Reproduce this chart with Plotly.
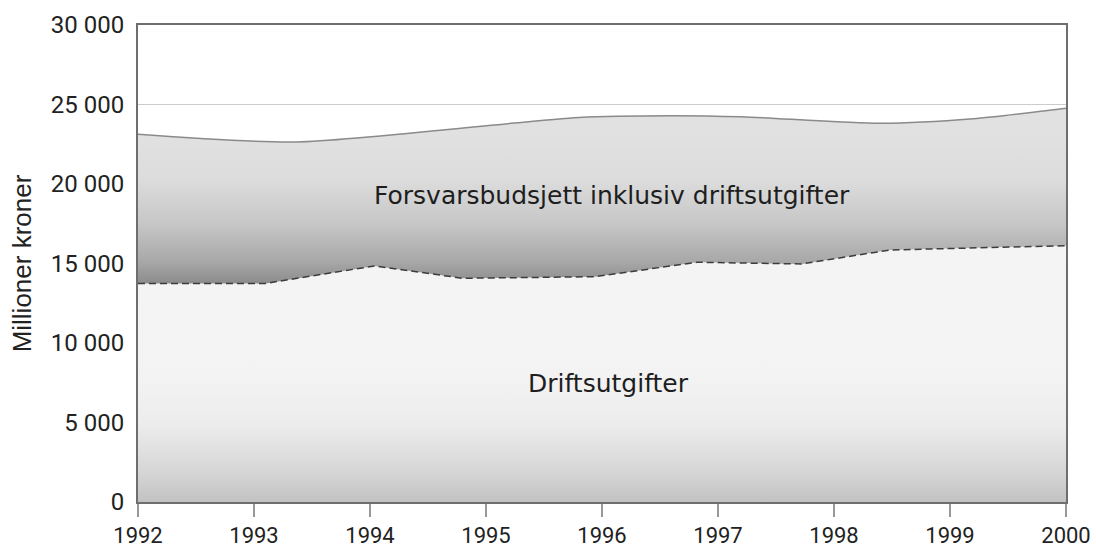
import plotly.graph_objects as go

# Data
years = [1992, 1993, 1994, 1995, 1996, 1997, 1998, 1999, 2000]
y_tickvals = [0, 5000, 10000, 15000, 20000, 25000, 30000]
y_ticktext = ["0", "5 000", "10 000", "15 000", "20 000", "25 000", "30 000"]

drift_x = [1992, 1993.1, 1994.04, 1994.8, 1995.94, 1996.82, 1997.72, 1998.48, 2000]
drift_y = [13750, 13750, 14850, 14070, 14170, 15080, 14970, 15850, 16120]

total_x = [1992, 1993.37, 1995.8, 1996.6, 1997.2, 1998.4, 1999.2, 2000]
total_y = [23125, 22640, 24190, 24300, 24230, 23820, 24100, 24760]

label_total = "Forsvarsbudsjett inklusiv driftsutgifter"
label_drift = "Driftsutgifter"

fig = go.Figure()

fig.add_trace(go.Scatter(
    x=drift_x, y=drift_y, mode="lines", fill="tozeroy",
    line=dict(color="#3c3c3c", width=1.5, dash="7px,4px"),
    fillgradient=dict(type="vertical", start=0, stop=16000,
                      colorscale=[[0, "#c2c2c2"], [0.12, "#d6d6d6"], [0.3, "#ececec"],
                                  [0.5, "#f3f3f3"], [1, "#f4f4f4"]]),
    hoverinfo="skip", showlegend=False,
))

fig.add_trace(go.Scatter(
    x=total_x, y=total_y, mode="lines", fill="tonexty",
    line=dict(color="#8a8a8a", width=1.5, shape="spline", smoothing=0.7),
    fillgradient=dict(type="vertical", start=13750, stop=23000,
                      colorscale=[[0, "#8c8c8c"], [0.15, "#a8a8a8"], [0.4, "#c6c6c6"],
                                  [0.7, "#dcdcdc"], [1, "#e1e1e1"]]),
    hoverinfo="skip", showlegend=False,
))

fig.add_annotation(x=1996.09, y=19300, text=label_total, showarrow=False,
                   font=dict(family="DejaVu Sans", size=25, color="#1e1e1e"))
fig.add_annotation(x=1996.06, y=7480, text=label_drift, showarrow=False,
                   font=dict(family="DejaVu Sans", size=25, color="#1e1e1e"))

fig.update_layout(
    width=1096, height=550, autosize=False,
    margin=dict(l=138, r=30, t=25, b=48),
    paper_bgcolor="white", plot_bgcolor="white",
    font=dict(family="Roboto", size=24, color="#222222"),
    xaxis=dict(range=[1992, 2000], tickvals=years, ticks="outside", ticklen=13,
               tickcolor="#999999", tickwidth=1.5, showgrid=False, zeroline=False,
               showline=True, linecolor="#6e6e6e", linewidth=2, mirror=True,
               automargin=False, tickfont=dict(family="Roboto", size=22, color="#222222")),
    yaxis=dict(range=[0, 30000], tickvals=y_tickvals, ticktext=y_ticktext,
               ticks="", showgrid=True, gridcolor="#cccccc", gridwidth=1,
               zeroline=False, showline=True, linecolor="#6e6e6e", linewidth=2,
               mirror=True, ticklabelstandoff=7, automargin=False,
               title=dict(text="Millioner kroner", standoff=12,
                          font=dict(family="Liberation Sans", size=26, color="#222222"))),
)

fig.write_html("out.html",
               config={"responsive": False, "displayModeBar": False, "staticPlot": True},
               post_script="document.body.style.margin='0';document.body.style.overflow='hidden';")
